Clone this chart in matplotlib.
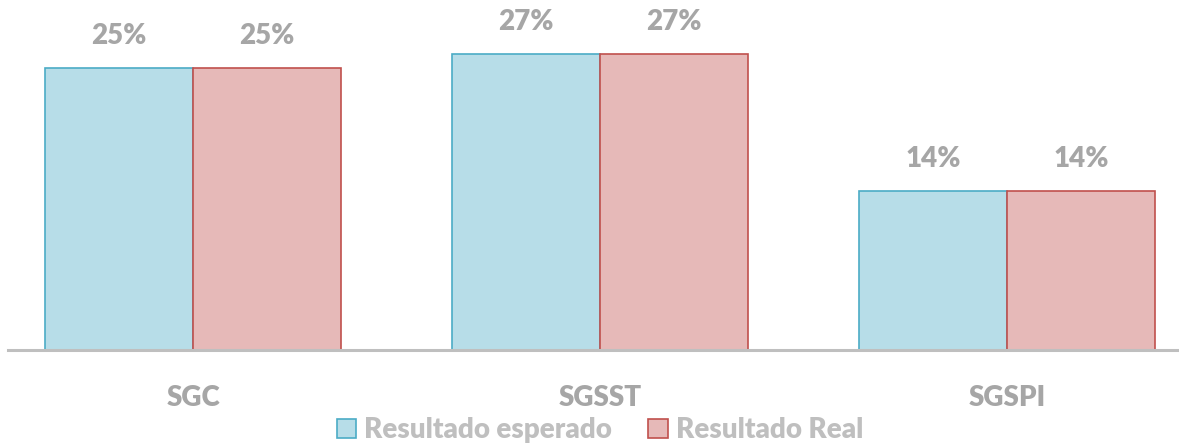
import numpy as np
import matplotlib.pyplot as plt

categories = ['SGC', 'SGSST', 'SGSPI']
esperado = [25.4, 26.6, 14.3]
real = [25.4, 26.6, 14.3]

plt.rcParams['font.family'] = ['Lato', 'DejaVu Sans']

fig = plt.figure(figsize=(11.79, 4.44), dpi=100)
ax = fig.add_axes([8 / 1179, 1 - 350 / 444, 1 - 8 / 1179, 350 / 444])

x = np.arange(len(categories))
w = 0.3636

b1 = ax.bar(x - w / 2, esperado, width=w, color='#B7DDE8', edgecolor='#4BACC6',
            linewidth=1.2, label='Resultado esperado')
b2 = ax.bar(x + w / 2, real, width=w, color='#E6B9B8', edgecolor='#C0504D',
            linewidth=1.2, label='Resultado Real')

for bars, vals in [(b1, esperado), (b2, real)]:
    for bar, v in zip(bars, vals):
        ax.annotate(f'{v:.0f}%', (bar.get_x() + bar.get_width() / 2, v),
                    xytext=(0, 23), textcoords='offset points',
                    ha='center', va='center', fontsize=20, fontweight='heavy',
                    color='#A6A6A6')

ax.set_xlim(-0.4545, 2.4226)
ax.set_ylim(0, 31.5)
ax.set_yticks([])
ax.set_xticks(x)
ax.set_xticklabels(categories, fontsize=20, fontweight='heavy', color='#A6A6A6')
ax.tick_params(axis='x', length=0, pad=25)
for s in ['top', 'right', 'left']:
    ax.spines[s].set_visible(False)
ax.spines['bottom'].set_color('#BFBFBF')
ax.spines['bottom'].set_linewidth(2.2)

leg = fig.legend(loc='center', bbox_to_anchor=(600 / 1179, 1 - 430 / 444),
                 ncol=2, frameon=False, fontsize=20, handlelength=0.7,
                 handleheight=0.7, handletextpad=0.3, columnspacing=1.3)
for t in leg.get_texts():
    t.set_color('#BFBFBF')
    t.set_fontweight('heavy')

fig.savefig('out.png', dpi=100)
